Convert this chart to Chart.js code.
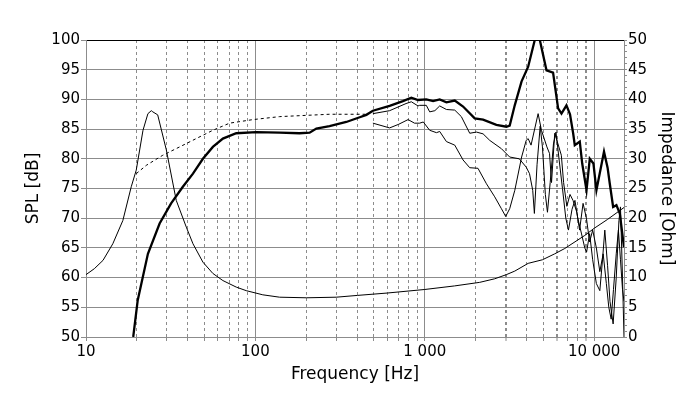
<!DOCTYPE html>
<html>
<head>
<meta charset="utf-8">
<script src="https://cdn.jsdelivr.net/npm/chart.js@4.4.1/dist/chart.umd.min.js"></script>
<style>
html,body{margin:0;padding:0;background:#fff;}
canvas{display:block;}
</style>
</head>
<body>
<canvas id="c" width="700" height="399"></canvas>
<script>
// ---- Data ----
// Main on-axis SPL (bold)
const boldFreq = [19,20.2,23.2,27.2,31.8,37.3,42.8,49,56.1,64.3,77.1,101,139,182,209,229,274,344,413,452,494,620,743,833,912,1021,1119,1225,1342,1503,1683,1972,2209,2647,3032,3172,3397,3724,4077,4460,4650,4777,5230,5719,6125,6413,6861,7200,7514,7682,8223,8500,9011,9420,9900,10310,11430,12000,12366,12940,13530,14170,15000];
const boldSpl  = [50,56.2,64.0,69.1,72.5,75.3,77.5,80.0,82.0,83.4,84.3,84.5,84.4,84.3,84.4,85.1,85.5,86.2,87.0,87.4,88.1,88.9,89.7,90.3,89.9,90.0,89.7,90.0,89.5,89.8,88.8,86.8,86.6,85.7,85.4,85.6,89.0,93.0,95.5,100,100.8,100,94.9,94.5,88.5,87.6,89.0,87.5,84.3,82.3,82.9,79.2,74.7,80.0,79.2,74.7,81.2,78.5,75.8,71.9,72.2,70.8,65.1];

// Low-frequency extension (dashed)
const dashFreq = [19.8,22.7,28.4,35.7,44.7,56.1,70.4,96.8,139,274,452];
const dashSpl  = [77.5,78.9,80.6,82.0,83.4,84.8,86.0,86.6,87.1,87.5,87.5];

// Off-axis response A (thin, upper)
const offAFreq = [494,620,775,833,912,933,1021,1069,1147,1225,1342,1503,1644,1842,2018,2209,2418,2834,3172,3612,3969,4152,4338,4436,4600,4800,4950,5150,5300,5500,5750,5950,6200,6500,6800,7050,7400,7700,8000,8400,8800,9020,9400,9800,10300,10800,11200,11555,12000,12400,12940,13500,14000,14300,14700,15000];
const offASpl  = [87.6,88.1,89.3,89.6,88.9,89.0,89.0,87.9,88.1,88.9,88.3,88.2,87.1,84.3,84.5,84.2,83.1,81.7,80.3,80.0,78.6,77.5,74.7,70.8,79,85.5,82,74,71,76,82.5,84.5,80,75,70,68,71.5,73,70,67.5,65,64.3,67.4,63,59,57.8,63,68,62,56,52.2,60,69.6,71.9,60,50];

// Off-axis response B (thin, lower)
const offBFreq = [494,620,700,797,870,933,980,1069,1172,1225,1342,1503,1683,1842,2061,2312,2587,2834,3004,3172,3400,3730,3969,4077,4240,4667,4885,5260,5450,5600,5850,6100,6400,6600,6900,7200,7500,7900,8200,8600,9000,9400,9800,10300,10800,11300,11800,12200,12600,13000,13500,13900,14300,14700,15000];
const offBSpl  = [86.0,85.2,85.8,86.6,86.0,86.0,86.2,84.8,84.4,84.6,82.9,82.3,79.8,78.5,78.4,75.8,73.6,71.6,70.3,71.6,74.7,80.3,83.1,83.4,82.3,87.6,84.8,82.0,80.9,76,84.3,82.6,80.6,76,72,74,73,71,68,72.5,70,66,68,65,61,64,59,55,53,58,64,68,63,58,56];

// Impedance (right axis, Ohm)
const impFreq = [10,11.2,12.6,14.4,16.5,18.5,19.8,21.7,23.2,24.3,24.8,26.5,29.8,34.1,39.1,42.8,49,56.1,64.3,77.1,88.3,110.6,139,200,300,400,600,1000,1500,2110,2587,3032,3400,4077,4949,5850,6706,8802,10000,12000,15000];
const impOhm  = [10.5,11.5,12.9,15.7,19.6,25.3,28.1,34.8,37.6,38.1,37.9,37.4,31.5,23.0,18.5,15.7,12.6,10.7,9.5,8.4,7.8,7.1,6.7,6.6,6.7,7.0,7.4,8.0,8.6,9.2,9.8,10.5,11.1,12.4,13.0,14.0,14.9,17.1,18.3,19.8,21.8];

// Axis ticks
const xMajorTicks = [10,100,1000,10000];
const xMinorTicks = [20,30,40,50,60,70,80,90,200,300,400,500,600,700,800,900,2000,3000,4000,5000,6000,7000,8000,9000];
const xMarkerTicks = [3000,6000,9000];
const xMin = 10, xMax = 15000;
const splMin = 50, splMax = 100, splStep = 5;
const impMin = 0, impMax = 50, impLabelStep = 5;

// ---- Chart ----
const GRID = '#8c8c8c';
const toXY = (xs, ys) => xs.map((x, i) => ({x: x, y: ys[i]}));
const isMajor = v => xMajorTicks.includes(v);
const fmt = v => String(v).replace(/\B(?=(\d{3})+(?!\d))/g, ' ');
const allXTicks = xMajorTicks.concat(xMinorTicks).sort((a, b) => a - b);

Chart.defaults.font.family = "'DejaVu Sans', Verdana, sans-serif";
Chart.defaults.font.size = 15;
Chart.defaults.color = '#000';

new Chart(document.getElementById('c'), {
  type: 'line',
  data: {
    datasets: [
      {data: toXY(impFreq, impOhm), yAxisID: 'y2', borderWidth: 1},
      {data: toXY(dashFreq, dashSpl), yAxisID: 'y', borderWidth: 1, borderDash: [3, 3]},
      {data: toXY(offBFreq, offBSpl), yAxisID: 'y', borderWidth: 1},
      {data: toXY(offAFreq, offASpl), yAxisID: 'y', borderWidth: 1},
      {data: toXY(boldFreq, boldSpl), yAxisID: 'y', borderWidth: 2.3}
    ]
  },
  options: {
    responsive: false,
    animation: false,
    devicePixelRatio: 1,
    layout: {padding: {top: 40, left: 0, right: 0, bottom: 0}},
    plugins: {legend: {display: false}, tooltip: {enabled: false}},
    elements: {
      point: {radius: 0},
      line: {tension: 0, borderColor: '#000', fill: false}
    },
    scales: {
      x: {
        type: 'logarithmic', position: 'bottom', min: xMin, max: xMax,
        afterBuildTicks: s => { s.ticks = allXTicks.map(v => ({value: v})); },
        afterFit: s => { s.height = 62; },
        ticks: {autoSkip: false, maxRotation: 0, minRotation: 0, padding: 2, font: {size: 15},
                callback: v => isMajor(v) ? fmt(v) : ''},
        grid: {
          color: GRID,
          lineWidth: c => (c.tick && xMarkerTicks.includes(c.tick.value)) ? 2 : 1,
          tickLength: 4, tickColor: GRID, tickWidth: 1
        },
        border: {color: GRID, dash: c => (c.tick && !isMajor(c.tick.value)) ? [3, 3] : []},
        title: {display: true, text: 'Frequency [Hz]', font: {size: 17}, color: '#000', padding: {top: 0, bottom: 14}}
      },
      xTop: {
        type: 'linear', position: 'top', min: 0, max: 1,
        afterFit: s => { s.height = 0; },
        ticks: {display: false},
        grid: {display: false},
        border: {display: true, color: '#000', width: 1}
      },
      y: {
        type: 'linear', position: 'left', min: splMin, max: splMax,
        afterFit: s => { s.width = 86; },
        ticks: {stepSize: splStep, padding: 1, font: {size: 15}},
        grid: {color: GRID, tickLength: 5},
        border: {color: GRID},
        title: {display: true, text: 'SPL [dB]', font: {size: 17}, color: '#000', padding: {top: 23, bottom: 0}}
      },
      y2: {
        type: 'linear', position: 'right', min: impMin, max: impMax,
        afterFit: s => { s.width = 76; },
        ticks: {stepSize: 1, autoSkip: false, padding: 1, font: {size: 15},
                callback: v => (v % impLabelStep === 0) ? String(v) : ''},
        grid: {drawOnChartArea: false, color: GRID, tickLength: 3},
        border: {color: GRID},
        title: {display: true, text: 'Impedance [Ohm]', font: {size: 17}, color: '#000', padding: {top: 23, bottom: 0}}
      }
    }
  }
});
</script>
</body>
</html>
